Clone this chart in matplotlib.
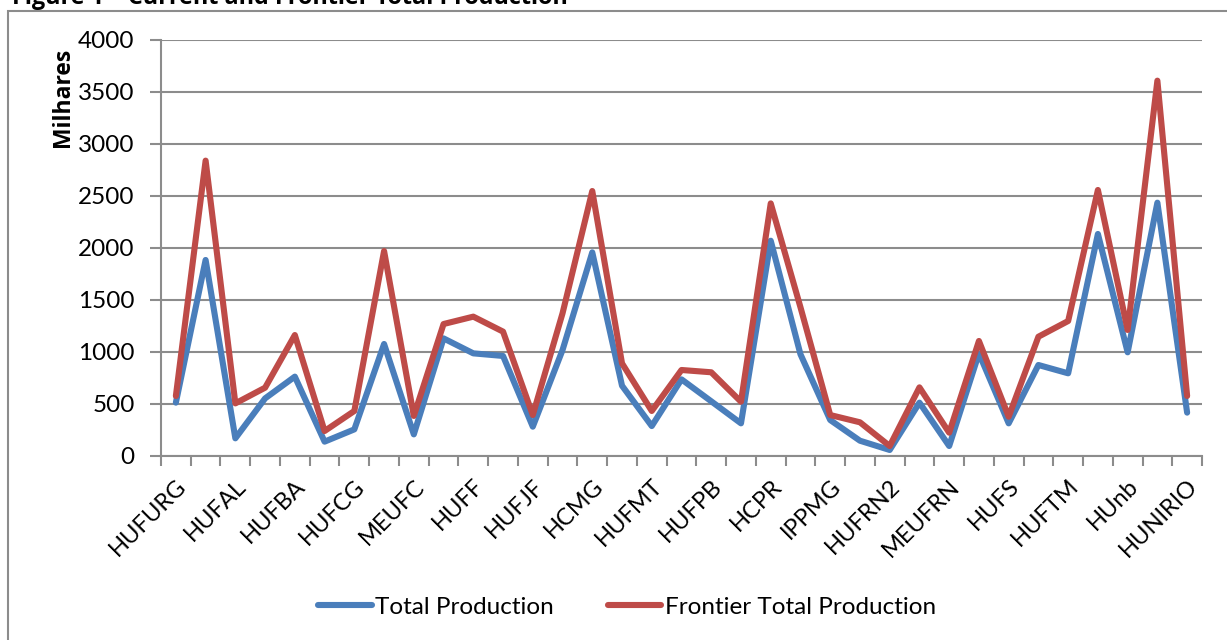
import matplotlib
matplotlib.use('Agg')
import matplotlib.pyplot as plt
from matplotlib.patches import Rectangle

plt.rcParams['font.family'] = ['Lato', 'DejaVu Sans']

# every other hospital name is shown on the axis
labels = ['HUFURG', 'HUFAL', 'HUFBA', 'HUFCG', 'MEUFC', 'HUFF', 'HUFJF', 'HCMG', 'HUFMT',
          'HUFPB', 'HCPR', 'IPPMG', 'HUFRN2', 'MEUFRN', 'HUFS', 'HUFTM', 'HUnb', 'HUNIRIO']

total = [513, 1885, 170, 554, 763, 138, 256, 1077, 208, 1131, 987, 962, 282, 1019, 1958,
         676, 288, 737, 526, 314, 2070, 978, 346, 147, 58, 513, 96, 987, 314, 875, 795,
         2135, 997, 2436, 417]
frontier = [577, 2840, 506, 657, 1163, 240, 433, 1971, 385, 1269, 1340, 1196, 394, 1372, 2548,
            891, 433, 827, 805, 522, 2429, 1430, 394, 324, 96, 660, 224, 1106, 378, 1147, 1298,
            2558, 1212, 3609, 577]

W, H = 1227, 640
fig = plt.figure(figsize=(W / 100, H / 100), dpi=100)
ax = fig.add_axes([161 / W, (H - 456) / H, 1041 / W, 416 / H])

x = list(range(len(total)))
ax.plot(x, total, color='#4A7EBB', lw=4.4, solid_joinstyle='round', solid_capstyle='round',
        label='Total Production', zorder=3)
ax.plot(x, frontier, color='#BE4B48', lw=4.4, solid_joinstyle='round', solid_capstyle='round',
        label='Frontier Total Production', zorder=3)

ax.set_xlim(-0.5, len(total) - 0.5)
ax.set_ylim(0, 4000)
ax.set_yticks(range(0, 4001, 500))
ax.yaxis.grid(True, color='#8C8C8C', lw=1.5)
ax.set_axisbelow(True)

gray = '#8C8C8C'
for s in ['top', 'right']:
    ax.spines[s].set_visible(False)
ax.spines['left'].set_color(gray)
ax.spines['bottom'].set_color(gray)
ax.spines['left'].set_linewidth(1.5)
ax.spines['bottom'].set_linewidth(1.5)

# labels on major ticks (no marks), tick marks between categories as minor ticks
ax.set_xticks(x[::2])
ax.set_xticklabels(labels, rotation=45, ha='right', rotation_mode='anchor', fontsize=17)
ax.tick_params(axis='x', which='major', length=0, pad=14)
ax.set_xticks([i - 0.5 for i in range(len(total) + 1)], minor=True)
ax.tick_params(axis='x', which='minor', length=7, width=1.5, color=gray)
ax.tick_params(axis='y', length=8, width=1.5, color=gray, labelsize=17.5, pad=11)

fig.text(63 / W, 1 - 97 / H, 'Milhares', rotation=90, fontsize=16.5, fontweight='bold',
         family=['Open Sans', 'DejaVu Sans'], ha='center', va='center')

fig.legend(loc='center', bbox_to_anchor=(627 / W, 1 - 607 / H), ncol=2, frameon=False,
           fontsize=17.5, handlelength=2.2, handletextpad=0.15, columnspacing=2.2)

# chart border, cut on right and bottom
fig.patches.append(Rectangle((8 / W, -0.5), 2, 1.5 - 11 / H, transform=fig.transFigure,
                             fill=False, edgecolor=gray, lw=1.5))
fig.text(12 / W, 1 - 4 / H, 'Figure 1 \u2013 Current and Frontier Total Production',
         fontsize=16.8, fontweight='bold', family=['Open Sans', 'DejaVu Sans'],
         va='baseline', ha='left')

fig.savefig('out.png', dpi=100)
